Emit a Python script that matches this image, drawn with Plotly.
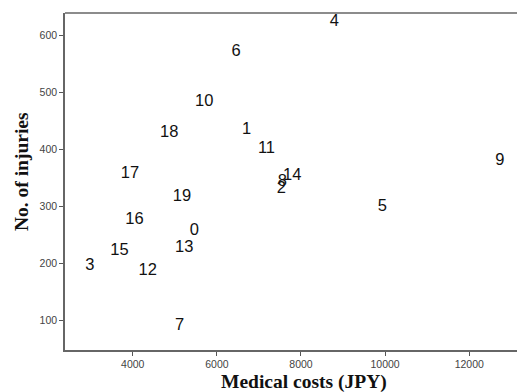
import plotly.graph_objects as go

labels = [str(i) for i in range(20)]
medical_costs = [5462, 6705, 7530, 2981, 8795, 9932, 6457, 5113, 7554, 12728,
                 5699, 7179, 4355, 5225, 7791, 3685, 4040, 3934, 4869, 5170]
injuries = [258, 434, 331, 197, 625, 300, 572, 90, 344, 381,
            484, 401, 187, 227, 354, 223, 277, 358, 430, 317]
x_ticks = [4000, 6000, 8000, 10000, 12000]
x_tick_text = ["4000", "6000", "8000", "10000", "12000"]
y_ticks = [100, 200, 300, 400, 500, 600]
y_tick_text = ["100", "200", "300", "400", "500", "600"]

SANS = "Liberation Sans, Arial, sans-serif"
SERIF = "Liberation Serif, Times New Roman, serif"

fig = go.Figure()
fig.add_trace(go.Scatter(
    x=medical_costs, y=injuries, text=labels, mode="text",
    textposition="middle center", cliponaxis=False,
    textfont=dict(family=SANS, size=16.5, color="#111"),
    hoverinfo="skip", showlegend=False,
))

axis_common = dict(
    showgrid=False, zeroline=False, showline=True, linecolor="#666", linewidth=1.5,
    ticks="outside", ticklen=4, tickcolor="#555", tickwidth=1, automargin=False,
    tickfont=dict(family=SANS, size=10.5, color="#444"),
)
fig.update_xaxes(range=[2389, 13136], tickvals=x_ticks, ticktext=x_tick_text, **axis_common)
fig.update_yaxes(range=[48.5, 640], tickvals=y_ticks, ticktext=y_tick_text, **axis_common)

fig.add_shape(type="line", xref="paper", yref="paper", x0=0, x1=1, y0=1, y1=1,
              line=dict(color="#666", width=1.5))

fig.add_annotation(text="<b>Medical costs (JPY)</b>", xref="paper", yref="paper",
                   x=(304 - 65) / (517 - 65), y=-(382 - 350) / (350 - 13), xanchor="center", yanchor="middle",
                   showarrow=False, font=dict(family=SERIF, size=19.5, color="#111"))
fig.add_annotation(text="<b>No. of injuries</b>", xref="paper", yref="paper",
                   x=-(65 - 21) / (517 - 65), y=(350 - 172) / (350 - 13), xanchor="center", yanchor="middle",
                   textangle=-90, showarrow=False, font=dict(family=SERIF, size=19.5, color="#111"))

fig.update_layout(
    width=517, height=392,
    margin=dict(l=65, r=0, t=13, b=42),
    paper_bgcolor="white", plot_bgcolor="white",
)
fig.write_html("out.html", config={"displayModeBar": False},
               post_script="document.body.style.margin='0';document.body.style.overflow='hidden';")
